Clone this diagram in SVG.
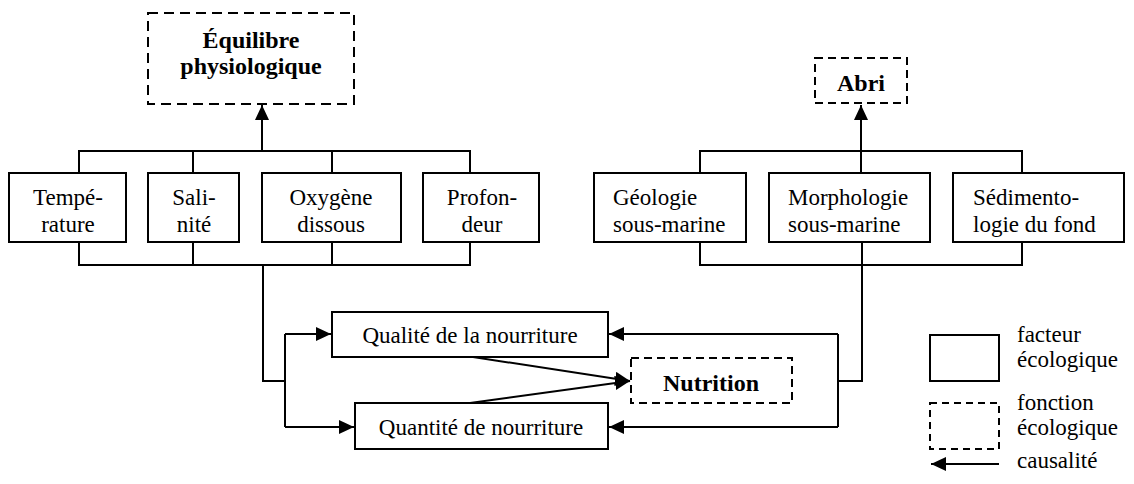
<svg xmlns="http://www.w3.org/2000/svg" width="1134" height="484" viewBox="0 0 1134 484">
<style>
.box{fill:#fff;stroke:#000;stroke-width:2}
.dbox{fill:#fff;stroke:#000;stroke-width:2;stroke-dasharray:8 5}
text{font-family:'Liberation Serif','DejaVu Serif',serif;fill:#000}
.t{font-size:23px}
.b{font-size:24px;font-weight:bold}
.c{text-anchor:middle}
.ln{fill:none;stroke:#000;stroke-width:2}
</style>
<defs>
<marker id="ah" markerWidth="16" markerHeight="14" refX="15" refY="7" orient="auto" markerUnits="userSpaceOnUse"><path d="M0,0 L15,7 L0,14 Z" fill="#000"/></marker>
</defs>
<rect width="1134" height="484" fill="#fff"/>
<g id="connectors">
<path class="ln" d="M79,173 V151 H470 V173 M193,151 V173 M332,151 V173"/>
<path class="ln" d="M262,151 V105" marker-end="url(#ah)"/>
<path class="ln" d="M79,242 V265 H470 V242 M193,242 V265 M332,242 V265"/>
<path class="ln" d="M263,265 V381 H285 M285,334 V427"/>
<path class="ln" d="M285,334 H331" marker-end="url(#ah)"/>
<path class="ln" d="M285,427 H354" marker-end="url(#ah)"/>
<path class="ln" d="M700,173 V151 H1022 V173"/>
<path class="ln" d="M861,173 V105" marker-end="url(#ah)"/>
<path class="ln" d="M700,242 V265 H1022 V242 M862,242 V381 H838 M838,334 V427"/>
<path class="ln" d="M838,334 H609" marker-end="url(#ah)"/>
<path class="ln" d="M838,427 H609" marker-end="url(#ah)"/>
<path class="ln" d="M473,357 L630,381" marker-end="url(#ah)"/>
<path class="ln" d="M470,403 L630,381" marker-end="url(#ah)"/>
</g>
<g id="equilibre">
<rect class="dbox" x="148" y="13" width="206" height="91" style="stroke-dasharray:10 6"/>
<text class="b c" x="251" y="48">Équilibre</text>
<text class="b c" x="251" y="74">physiologique</text>
</g>
<g id="abri">
<rect class="dbox" x="815" y="58" width="92" height="45"/>
<text class="b c" x="861" y="91">Abri</text>
</g>
<g id="temperature">
<rect class="box" x="9" y="173" width="117" height="69"/>
<text class="t c" x="68" y="205">Tempé-</text>
<text class="t c" x="68" y="232">rature</text>
</g>
<g id="salinite">
<rect class="box" x="148" y="173" width="91" height="69"/>
<text class="t c" x="194" y="205">Sali-</text>
<text class="t c" x="194" y="232">nité</text>
</g>
<g id="oxygene">
<rect class="box" x="262" y="173" width="139" height="69"/>
<text class="t c" x="331" y="205">Oxygène</text>
<text class="t c" x="331" y="232">dissous</text>
</g>
<g id="profondeur">
<rect class="box" x="423" y="173" width="116" height="69"/>
<text class="t c" x="482" y="205">Profon-</text>
<text class="t c" x="482" y="232">deur</text>
</g>
<g id="geologie">
<rect class="box" x="594" y="173" width="152" height="69"/>
<text class="t" x="613" y="205">Géologie</text>
<text class="t" x="613" y="232">sous-marine</text>
</g>
<g id="morphologie">
<rect class="box" x="769" y="173" width="161" height="69"/>
<text class="t" x="788" y="205">Morphologie</text>
<text class="t" x="788" y="232">sous-marine</text>
</g>
<g id="sedimentologie">
<rect class="box" x="953" y="173" width="171" height="69"/>
<text class="t" x="973" y="205">Sédimento-</text>
<text class="t" x="973" y="232">logie du fond</text>
</g>
<g id="qualite">
<rect class="box" x="332" y="312" width="276" height="45"/>
<text class="t c" x="470" y="343">Qualité de la nourriture</text>
</g>
<g id="quantite">
<rect class="box" x="355" y="403" width="253" height="46"/>
<text class="t c" x="481" y="435">Quantité de nourriture</text>
</g>
<g id="nutrition">
<rect class="dbox" x="631" y="358" width="161" height="45"/>
<text class="b c" x="711" y="391">Nutrition</text>
</g>
<g id="legend">
<rect class="box" x="930" y="335" width="69" height="46"/>
<text class="t" x="1017" y="342">facteur</text>
<text class="t" x="1017" y="367">écologique</text>
<rect class="dbox" x="930" y="403" width="69" height="46" style="stroke-dasharray:7 5"/>
<text class="t" x="1017" y="410">fonction</text>
<text class="t" x="1017" y="435">écologique</text>
<path class="ln" d="M999,464 H931" marker-end="url(#ah)"/>
<text class="t" x="1017" y="468">causalité</text>
</g>
</svg>
